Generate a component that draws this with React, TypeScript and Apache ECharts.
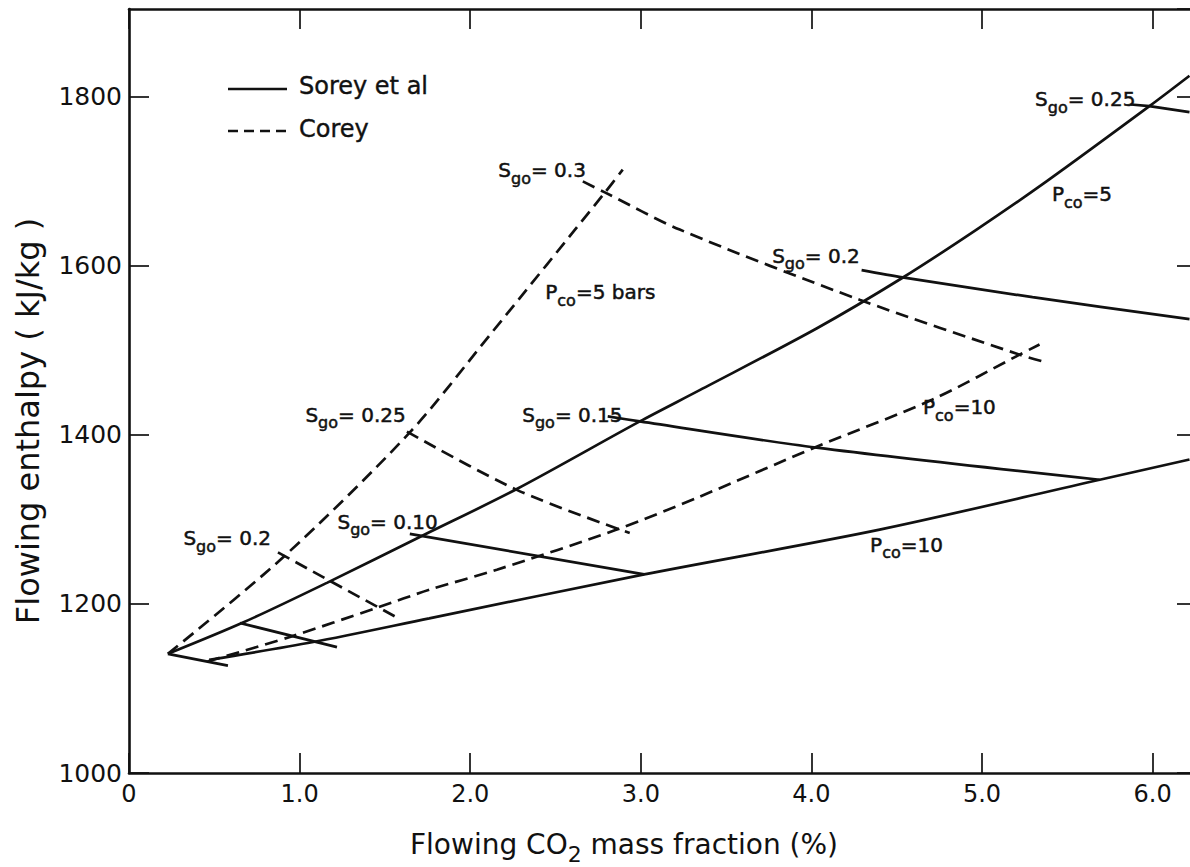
import React, { useEffect, useRef } from "react";
import * as echarts from "echarts";

// Axis ranges and tick labels
const X_MIN = 0;
const X_MAX = 6.26;
const Y_MIN = 1000;
const Y_MAX = 1904;
const xTickLabels: Record<number, string> = { 0: "0", 1: "1.0", 2: "2.0", 3: "3.0", 4: "4.0", 5: "5.0", 6: "6.0" };
const yTickLabels: Record<number, string> = { 1000: "1000", 1200: "1200", 1400: "1400", 1600: "1600", 1800: "1800" };

// Legend entries
const legendNames = ["Sorey et al", "Corey"];

// Sorey et al relative permeabilities (solid lines): [CO2 mass fraction %, enthalpy kJ/kg]
const soreyPco5 = [
  [0.228, 1141], [0.668, 1178], [1.16, 1225], [1.722, 1281], [2.273, 1336],
  [2.994, 1416], [3.345, 1453], [4.03, 1526], [4.534, 1586], [4.968, 1643], [5.378, 1700],
  [5.981, 1789], [6.216, 1825],
];
const soreyPco10 = [
  [0.47, 1134], [1.08, 1155], [1.76, 1183], [3.02, 1235], [4.4, 1288], [5.69, 1347], [6.216, 1371],
];
const soreySgoLow = [[0.228, 1141], [0.58, 1127]];
const soreySgo005 = [[0.65, 1177.5], [1.219, 1149]];
const soreySgo010 = [[1.646, 1283], [3.02, 1235]];
const soreySgo015 = [[2.806, 1422], [2.994, 1416], [4.03, 1385], [5.689, 1347]];
const soreySgo020 = [[4.294, 1595], [4.534, 1586.5], [5.296, 1563], [6.216, 1537]];
const soreySgo025 = [[5.873, 1791], [5.981, 1789], [6.216, 1782]];

// Corey relative permeabilities (dashed lines)
const coreyPco5 = [[0.228, 1141], [0.902, 1255], [1.646, 1403], [2.11, 1517], [2.79, 1687], [2.894, 1714]];
const coreyPco10 = [
  [0.46, 1132], [0.943, 1161], [1.453, 1195.5], [1.763, 1217], [2.156, 1240.5], [2.859, 1288],
  [3.345, 1327], [4.03, 1386], [4.71, 1442], [5.22, 1495], [5.337, 1507],
];
const coreySgo020 = [[0.873, 1261], [1.57, 1184]];
const coreySgo025 = [[1.629, 1404], [2.273, 1335], [2.935, 1284]];
const coreySgo030 = [[2.66, 1700], [2.789, 1687], [3.228, 1643], [4.282, 1560], [5.22, 1495], [5.355, 1487]];

// Curve annotations (rich text) and the data point where each one starts
const curveLabels = [
  "{m|S}{s|go}{m|= 0.2}",
  "{m|S}{s|go}{m|= 0.10}",
  "{m|S}{s|go}{m|= 0.25}",
  "{m|S}{s|go}{m|= 0.15}",
  "{m|S}{s|go}{m|= 0.3}",
  "{m|P}{s|co}{m|=5 bars}",
  "{m|S}{s|go}{m|= 0.2}",
  "{m|P}{s|co}{m|=10}",
  "{m|S}{s|go}{m|= 0.25}",
  "{m|P}{s|co}{m|=5}",
  "{m|P}{s|co}{m|=10}",
];
const curveLabelAnchors = [
  [0.316, 1278], [1.219, 1297], [1.031, 1424], [2.302, 1424], [2.162, 1713], [2.437, 1569],
  [3.767, 1612], [4.651, 1433], [5.308, 1797], [5.407, 1685], [4.341, 1270],
];

const INK = "#111";
const FONT = "'DejaVu Sans', sans-serif";

function curve(name: string, data: number[][], dashed: boolean, smooth: number | boolean) {
  return {
    type: "line",
    name,
    data,
    symbol: "none",
    smooth,
    silent: true,
    z: 3,
    itemStyle: { color: INK },
    lineStyle: { color: INK, width: 2.7, type: dashed ? [13, 7] : "solid" },
  };
}

function axisCommon() {
  return {
    type: "value",
    axisLine: { show: true, onZero: false, lineStyle: { color: INK, width: 2.6 } },
    axisTick: { show: true, inside: true, length: 20, lineStyle: { color: INK, width: 1.7 } },
    splitLine: { show: false },
  };
}

const textThick = { textBorderColor: INK, textBorderWidth: 0.5 };

export default function App() {
  const ref = useRef<HTMLDivElement>(null);

  useEffect(() => {
    if (!ref.current) return;
    const chart = echarts.init(ref.current, undefined, { renderer: "svg" });

    const [S, C] = legendNames;

    chart.setOption({
      animation: false,
      backgroundColor: "#fff",
      grid: { left: 129, top: 9, width: 1068, height: 764 },
      xAxis: [
        {
          ...axisCommon(),
          position: "bottom",
          min: X_MIN,
          max: X_MAX,
          interval: 1,
          axisLabel: {
            show: true,
            margin: 9,
            fontSize: 24,
            fontFamily: FONT,
            color: INK,
            showMaxLabel: false,
            formatter: (v: number) => xTickLabels[v] ?? "",
          },
        },
        {
          ...axisCommon(),
          position: "top",
          min: X_MIN,
          max: X_MAX,
          interval: 1,
          axisLabel: { show: false },
        },
      ],
      yAxis: [
        {
          ...axisCommon(),
          position: "left",
          min: Y_MIN,
          max: Y_MAX,
          interval: 200,
          axisLabel: {
            show: true,
            margin: 7,
            fontSize: 25,
            fontFamily: FONT,
            color: INK,
            showMaxLabel: false,
            formatter: (v: number) => yTickLabels[v] ?? "",
          },
        },
        {
          ...axisCommon(),
          position: "right",
          min: Y_MIN,
          max: Y_MAX,
          interval: 200,
          axisLabel: { show: false },
        },
      ],
      series: [
        curve(S, soreyPco5, false, 0.3),
        curve(S, soreyPco10, false, 0.3),
        curve(S, soreySgoLow, false, false),
        curve(S, soreySgo005, false, false),
        curve(S, soreySgo010, false, false),
        curve(S, soreySgo015, false, 0.3),
        curve(S, soreySgo020, false, 0.3),
        curve(S, soreySgo025, false, false),
        curve(C, coreyPco5, true, 0.3),
        curve(C, coreyPco10, true, 0.3),
        curve(C, coreySgo020, true, false),
        curve(C, coreySgo025, true, 0.3),
        curve(C, coreySgo030, true, 0.3),
        {
          type: "scatter",
          name: "labels",
          silent: true,
          symbolSize: 1,
          itemStyle: { color: "rgba(255,255,255,0)" },
          z: 5,
          data: curveLabelAnchors.map((p, i) => ({
            value: p,
            label: { formatter: curveLabels[i] },
          })),
          label: {
            show: true,
            position: "right",
            distance: 0,
            color: INK,
            opacity: 1,
            rich: {
              m: { fontSize: 20, lineHeight: 20, verticalAlign: "top", fontFamily: FONT, color: INK, ...textThick },
              s: {
                fontSize: 16,
                lineHeight: 16,
                verticalAlign: "top",
                fontFamily: FONT,
                color: INK,
                padding: [10, 0, 0, 0],
                ...textThick,
              },
            },
          },
        },
      ],
      graphic: [
        // legend
        {
          type: "line",
          silent: true,
          shape: { x1: 228, y1: 89, x2: 287, y2: 89 },
          style: { stroke: INK, lineWidth: 2.7 },
        },
        {
          type: "line",
          silent: true,
          shape: { x1: 228, y1: 131, x2: 287, y2: 131 },
          style: { stroke: INK, lineWidth: 2.7, lineDash: [10, 6] },
        },
        {
          type: "text",
          x: 299,
          y: 86,
          silent: true,
          style: { text: S, fontSize: 24, fontFamily: FONT, fill: INK, verticalAlign: "middle", ...{ stroke: INK, lineWidth: 0.4 } },
        },
        {
          type: "text",
          x: 299,
          y: 129,
          silent: true,
          style: { text: C, fontSize: 24, fontFamily: FONT, fill: INK, verticalAlign: "middle", ...{ stroke: INK, lineWidth: 0.4 } },
        },
        // axis titles
        {
          type: "text",
          x: 624,
          y: 844,
          silent: true,
          style: {
            text: "{a|Flowing CO}{b|2}{a| mass fraction (%)}",
            align: "center",
            verticalAlign: "middle",
            fill: INK,
            rich: {
              a: { fontSize: 28, lineHeight: 28, fontFamily: FONT, fill: INK, verticalAlign: "top" },
              b: { fontSize: 22, lineHeight: 22, fontFamily: FONT, fill: INK, verticalAlign: "top", padding: [13, 0, 0, 0] },
            },
          },
        },
        {
          type: "text",
          x: 28,
          y: 421,
          rotation: Math.PI / 2,
          silent: true,
          style: {
            text: "Flowing enthalpy ( kJ/kg )",
            fontSize: 32,
            fontFamily: FONT,
            fill: INK,
            align: "center",
            verticalAlign: "middle",
          },
        },
      ],
    });

    return () => chart.dispose();
  }, []);

  return (
    <div
      style={{
        position: "fixed",
        left: 0,
        top: 0,
        width: 1190,
        height: 867,
        overflow: "hidden",
        background: "#fff",
      }}
    >
      <div ref={ref} style={{ width: 1220, height: 867 }} />
    </div>
  );
}
